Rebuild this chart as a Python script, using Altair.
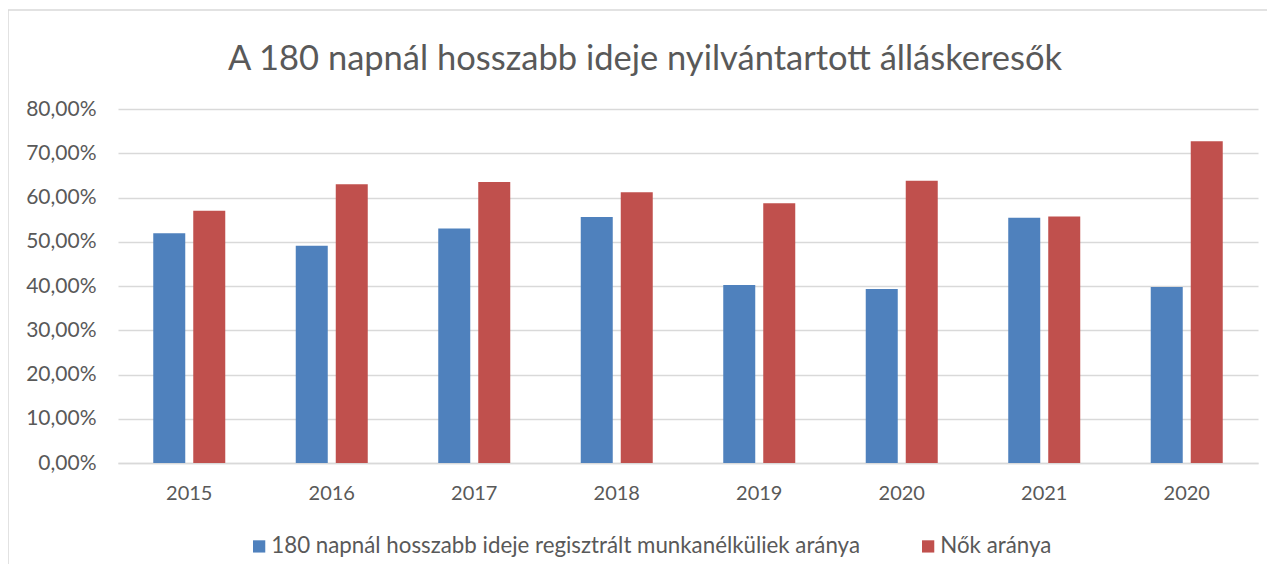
import json
import altair as alt
import pandas as pd

years = ["2015", "2016", "2017", "2018", "2019", "2020", "2021", "2020"]
long_term = [51.9, 49.1, 53.0, 55.6, 40.2, 39.3, 55.4, 39.8]
women = [57.0, 63.0, 63.5, 61.2, 58.7, 63.8, 55.7, 72.7]
series_names = ["180 napnál hosszabb ideje regisztrált munkanélküliek aránya", "Nők aránya"]
colors = ["#4F81BD", "#C0504D"]

rows = []
for i, y in enumerate(years):
    rows.append({"idx": i, "series": series_names[0], "value": long_term[i] / 100})
    rows.append({"idx": i, "series": series_names[1], "value": women[i] / 100})
df = pd.DataFrame(rows)

FONT = "Lato"
label_expr = json.dumps(years) + "[datum.value]"

bars = alt.Chart(df).mark_bar().encode(
    x=alt.X("idx:O", title=None,
            scale=alt.Scale(paddingInner=0.4947, paddingOuter=0.2474),
            axis=alt.Axis(labelExpr=label_expr, labelAngle=0, ticks=False,
                          domainColor="#D9D9D9", domainWidth=1.5,
                          labelFont=FONT, labelFontSize=20, labelColor="#595959",
                          labelPadding=20, grid=False)),
    xOffset=alt.XOffset("series:N", sort=series_names,
                        scale=alt.Scale(paddingInner=0.2, paddingOuter=0)),
    y=alt.Y("value:Q", title=None,
            scale=alt.Scale(domain=[0, 0.8], nice=False),
            axis=alt.Axis(values=[i / 10 for i in range(9)], labelOverlap=False,
                          labelExpr="replace(format(datum.value*100, '.2f'), '.', ',') + '%'",
                          ticks=False, domain=False, gridColor="#D9D9D9", gridWidth=1.5,
                          labelFont=FONT, labelFontSize=21, labelColor="#595959",
                          labelPadding=22)),
    color=alt.Color("series:N", sort=series_names,
                    scale=alt.Scale(domain=series_names, range=colors),
                    legend=alt.Legend(title=None, orient="none", direction="horizontal",
                                      legendX=130, legendY=426,
                                      symbolType="square", symbolSize=150,
                                      symbolStrokeWidth=0, symbolOffset=0,
                                      labelFont=FONT, labelFontSize=22.3, labelColor="#595959",
                                      labelOffset=1,
                                      columnPadding=57, labelLimit=800)),
)

frame_left = alt.Chart(pd.DataFrame({"a": [0]})).mark_rule(
    stroke="#D9D9D9", strokeWidth=1.5, clip=False
).encode(x=alt.value(-110), y=alt.value(-99), y2=alt.value(470))
frame_top = alt.Chart(pd.DataFrame({"a": [0]})).mark_rule(
    stroke="#D9D9D9", strokeWidth=1.5, clip=False
).encode(x=alt.value(-110), x2=alt.value(1160), y=alt.value(-99))

chart = alt.layer(frame_left, frame_top, bars).properties(
    width=1140, height=354,
    autosize=alt.AutoSizeParams(type="none"),
    padding={"left": 110, "top": 101, "right": 9, "bottom": 101},
    title=alt.TitleParams("A 180 napnál hosszabb ideje nyilvántartott álláskeresők",
                          font=FONT, fontSize=34.5, fontWeight="normal", color="#595959",
                          anchor="middle", dx=-43, offset=0, dy=68),
).configure_view(stroke=None)

chart.save("out.html", embed_options={"renderer": "svg", "actions": False})
